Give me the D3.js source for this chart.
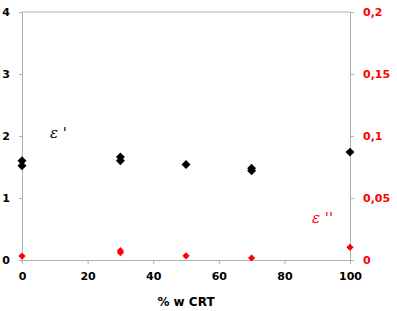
<!DOCTYPE html>
<html lang="en">
<head>
  <meta charset="UTF-8" />
  <title>Dielectric constant vs % w CRT</title>
  <script src="https://d3js.org/d3.v7.min.js"></script>
  <style>
    body { margin: 0; background: #fff; }
    svg text { font-family: "DejaVu Sans", sans-serif; font-weight: bold; }
  </style>
</head>
<body>
  <svg id="chart" width="397" height="311"></svg>
  <script>
    // data
    const epsRealX = [0, 0, 30, 30, 50, 70, 70, 100];
    const epsRealY = [1.60, 1.52, 1.66, 1.60, 1.54, 1.48, 1.44, 1.74];
    const epsImagX = [0, 30, 30, 50, 70, 100];
    const epsImagY = [0.0032, 0.0060, 0.0075, 0.0034, 0.0016, 0.0102];
    const xTicks = [0, 20, 40, 60, 80, 100];
    const yLeftTicks = [0, 1, 2, 3, 4];
    const yRightTicks = [0, 0.05, 0.1, 0.15, 0.2];
    const yRightLabels = ["0", "0,05", "0,1", "0,15", "0,2"];

    const svg = d3.select("#chart"),
          margin = {top: 12, right: 47, bottom: 51, left: 22},
          width = 397 - margin.left - margin.right,
          height = 311 - margin.top - margin.bottom;

    const chart = svg.append("g")
        .attr("transform", `translate(${margin.left},${margin.top})`);

    const x = d3.scaleLinear().domain([0, 100]).range([0, width]);
    const yL = d3.scaleLinear().domain([0, 4]).range([height, 0]);
    const yR = d3.scaleLinear().domain([0, 0.2]).range([height, 0]);

    // frame top line
    chart.append("line")
        .attr("x1", 0).attr("x2", width)
        .attr("y1", 0).attr("y2", 0)
        .attr("stroke", "#b0b0b0");

    // X-axis
    const gx = chart.append("g")
        .attr("transform", `translate(0,${height})`)
        .call(d3.axisBottom(x).tickValues(xTicks).tickSize(4).tickPadding(8));
    gx.selectAll("text").attr("font-size", "11px").attr("fill", "#000");

    // left axis
    const gl = chart.append("g")
        .call(d3.axisLeft(yL).tickValues(yLeftTicks).tickSize(3).tickPadding(9)
          .tickFormat(d3.format("d")));
    gl.selectAll("text").attr("font-size", "11px").attr("fill", "#000");

    // right axis
    const gr = chart.append("g")
        .attr("transform", `translate(${width},0)`)
        .call(d3.axisRight(yR).tickValues(yRightTicks).tickSize(4).tickPadding(9)
          .tickFormat((d, i) => yRightLabels[i]));
    gr.selectAll("text").attr("font-size", "11px").attr("fill", "#ff0000");

    [gx, gl, gr].forEach(g => {
      g.select(".domain").attr("stroke", "#b0b0b0");
      g.selectAll(".tick line").attr("stroke", "#b0b0b0");
    });

    const diamond = d3.symbol().type(d3.symbolSquare);

    // eps' points
    chart.selectAll(".real")
        .data(epsRealX.map((v, i) => [v, epsRealY[i]]))
        .enter().append("path")
          .attr("class", "real")
          .attr("d", diamond.size(40))
          .attr("transform", d => `translate(${x(d[0])},${yL(d[1])}) rotate(45)`)
          .attr("fill", "#000");

    // eps'' points
    chart.selectAll(".imag")
        .data(epsImagX.map((v, i) => [v, epsImagY[i]]))
        .enter().append("path")
          .attr("class", "imag")
          .attr("d", diamond.size(26))
          .attr("transform", d => `translate(${x(d[0])},${yR(d[1])}) rotate(45)`)
          .attr("fill", "#ff0000");

    // series labels
    svg.append("text")
        .attr("x", 50).attr("y", 138)
        .attr("font-size", "15px")
        .attr("font-style", "italic")
        .style("font-family", "'DejaVu Serif', serif")
        .style("font-weight", "normal")
        .attr("fill", "#000")
        .text("\u03b5 '");

    svg.append("text")
        .attr("x", 312).attr("y", 223)
        .attr("font-size", "15px")
        .attr("font-style", "italic")
        .style("font-family", "'DejaVu Serif', serif")
        .style("font-weight", "normal")
        .attr("fill", "#ff0000")
        .text("\u03b5 ''");

    // axis title
    svg.append("text")
        .attr("x", 186).attr("y", 306)
        .attr("text-anchor", "middle")
        .attr("font-size", "12px")
        .attr("fill", "#000")
        .text("% w CRT");
  </script>
</body>
</html>
